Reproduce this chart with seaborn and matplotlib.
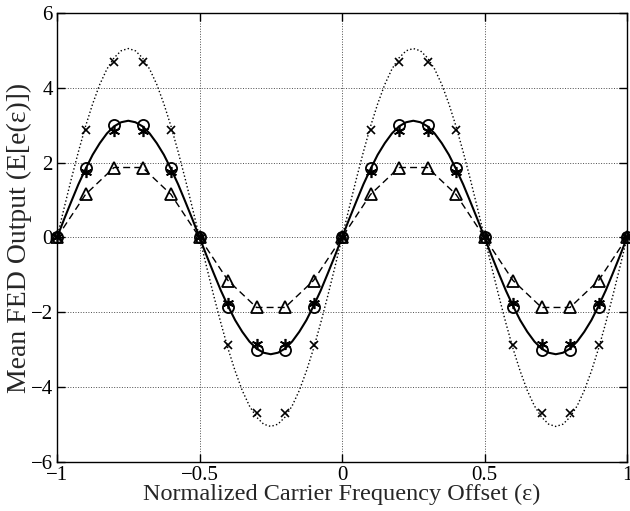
import numpy as np
import pandas as pd
import matplotlib
matplotlib.use("Agg")
import matplotlib.pyplot as plt
import seaborn as sns

# ---- data ----
eps_pts = [-1.0, -0.9, -0.8, -0.7, -0.6, -0.5, -0.4, -0.3, -0.2, -0.1, 0.0,
           0.1, 0.2, 0.3, 0.4, 0.5, 0.6, 0.7, 0.8, 0.9, 1.0]
circ_vals = [0, 1.85, 3.0, 3.0, 1.85, 0, -1.85, -3.0, -3.0, -1.85, 0,
             1.85, 3.0, 3.0, 1.85, 0, -1.85, -3.0, -3.0, -1.85, 0]
star_vals = [0, 1.75, 2.85, 2.85, 1.75, 0, -1.75, -2.85, -2.85, -1.75, 0,
             1.75, 2.85, 2.85, 1.75, 0, -1.75, -2.85, -2.85, -1.75, 0]
tri_vals = [0, 1.15, 1.87, 1.87, 1.15, 0, -1.15, -1.87, -1.87, -1.15, 0,
            1.15, 1.87, 1.87, 1.15, 0, -1.15, -1.87, -1.87, -1.15, 0]
x_vals = [0, 2.88, 4.68, 4.68, 2.88, 0, -2.88, -4.68, -4.68, -2.88, 0,
          2.88, 4.68, 4.68, 2.88, 0, -2.88, -4.68, -4.68, -2.88, 0]

eps_fine = np.linspace(-1, 1, 81)
solid_vals = [0, 0.49, 0.96, 1.42, 1.83, 2.21, 2.52, 2.78, 2.97, 3.08, 3.12,
              3.08, 2.97, 2.78, 2.52, 2.21, 1.83, 1.42, 0.96, 0.49, 0,
              -0.49, -0.96, -1.42, -1.83, -2.21, -2.52, -2.78, -2.97, -3.08, -3.12,
              -3.08, -2.97, -2.78, -2.52, -2.21, -1.83, -1.42, -0.96, -0.49, 0,
              0.49, 0.96, 1.42, 1.83, 2.21, 2.52, 2.78, 2.97, 3.08, 3.12,
              3.08, 2.97, 2.78, 2.52, 2.21, 1.83, 1.42, 0.96, 0.49, 0,
              -0.49, -0.96, -1.42, -1.83, -2.21, -2.52, -2.78, -2.97, -3.08, -3.12,
              -3.08, -2.97, -2.78, -2.52, -2.21, -1.83, -1.42, -0.96, -0.49, 0]
dotted_vals = [0, 0.79, 1.56, 2.29, 2.97, 3.57, 4.09, 4.50, 4.80, 4.99, 5.05,
               4.99, 4.80, 4.50, 4.09, 3.57, 2.97, 2.29, 1.56, 0.79, 0,
               -0.79, -1.56, -2.29, -2.97, -3.57, -4.09, -4.50, -4.80, -4.99, -5.05,
               -4.99, -4.80, -4.50, -4.09, -3.57, -2.97, -2.29, -1.56, -0.79, 0,
               0.79, 1.56, 2.29, 2.97, 3.57, 4.09, 4.50, 4.80, 4.99, 5.05,
               4.99, 4.80, 4.50, 4.09, 3.57, 2.97, 2.29, 1.56, 0.79, 0,
               -0.79, -1.56, -2.29, -2.97, -3.57, -4.09, -4.50, -4.80, -4.99, -5.05,
               -4.99, -4.80, -4.50, -4.09, -3.57, -2.97, -2.29, -1.56, -0.79, 0]

x_ticks = [-1, -0.5, 0, 0.5, 1]
x_ticklabels = ["\u22121", "\u22120.5", "0", "0.5", "1"]
y_ticks = [-6, -4, -2, 0, 2, 4, 6]
y_ticklabels = ["\u22126", "\u22124", "\u22122", "0", "2", "4", "6"]

# ---- style ----
sns.set_theme(style="white")
plt.rcParams["font.family"] = ["Liberation Serif", "DejaVu Serif"]

fig = plt.figure(figsize=(6.3, 5.11), dpi=100)
ax = fig.add_axes([0.0905, 0.0959, 0.9048, 0.8787])

df_fine = pd.DataFrame({"eps": eps_fine, "solid": solid_vals, "dotted": dotted_vals})
df_pts = pd.DataFrame({"eps": eps_pts, "circ": circ_vals, "star": star_vals,
                       "tri": tri_vals, "x": x_vals})

sns.lineplot(data=df_fine, x="eps", y="dotted", ax=ax, color="black",
             linestyle=":", linewidth=1.0, estimator=None)
sns.lineplot(data=df_fine, x="eps", y="solid", ax=ax, color="black",
             linewidth=1.5, estimator=None)
sns.lineplot(data=df_pts, x="eps", y="tri", ax=ax, color="black",
             linewidth=1.0, estimator=None,
             marker="^", markersize=8, markerfacecolor="none",
             markeredgecolor="black", markeredgewidth=1.3, clip_on=False)
ax.lines[-1].set_dashes([5, 3])
sns.lineplot(data=df_pts, x="eps", y="x", ax=ax, color="black", linestyle="",
             estimator=None, marker="x", markersize=5.5, markeredgewidth=1.2,
             markeredgecolor="black", clip_on=False)
sns.lineplot(data=df_pts, x="eps", y="circ", ax=ax, color="black", linestyle="",
             estimator=None, marker="o", markersize=8, markerfacecolor="none",
             markeredgecolor="black", markeredgewidth=1.3, clip_on=False)
sns.lineplot(data=df_pts, x="eps", y="star", ax=ax, color="black", linestyle="",
             estimator=None, marker=(6, 2, 0), markersize=8,
             markeredgecolor="black", markeredgewidth=1.2, clip_on=False)

ax.set_xlim(-1, 1)
ax.set_ylim(-6, 6)
ax.set_xticks(x_ticks)
ax.set_xticklabels(x_ticklabels)
ax.set_yticks(y_ticks)
ax.set_yticklabels(y_ticklabels)
ax.grid(True, color="0.3", linestyle=":", linewidth=0.7)
ax.tick_params(direction="in", length=6, width=1, top=True, right=True,
               bottom=True, left=True, labelsize=15, pad=3, colors="black")
for s in ax.spines.values():
    s.set_color("black")
    s.set_linewidth(1.0)

ax.set_xlabel("Normalized Carrier Frequency Offset (\u03b5)", fontsize=17.5, labelpad=-1)
ax.set_ylabel("Mean FED Output (E[e(\u03b5)])", fontsize=20, labelpad=-1)

fig.savefig("out.png", dpi=100)
